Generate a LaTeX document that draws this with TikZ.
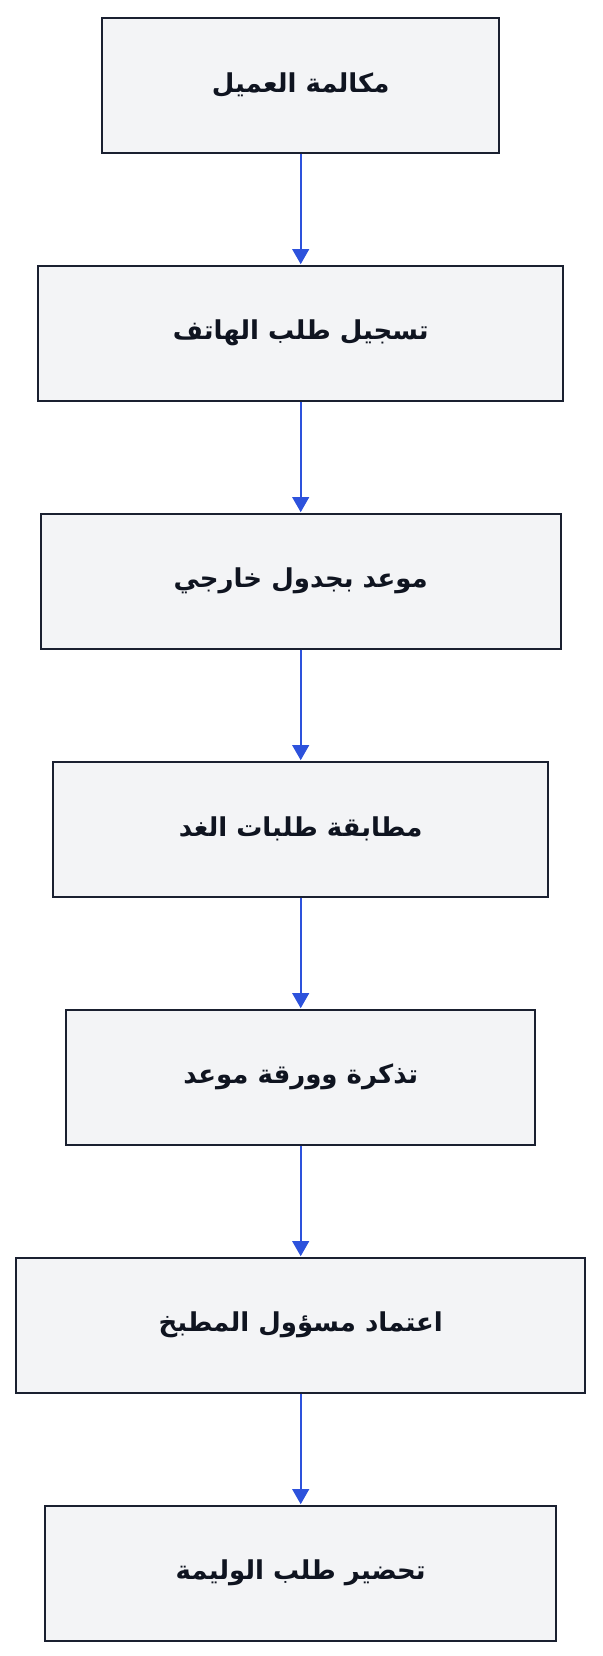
\documentclass[tikz,border=0pt]{standalone}
\usepackage{fontspec}
\usetikzlibrary{arrows.meta}
\TeXXeTstate=1
\newfontfamily\arabicfont[Script=Arabic]{DejaVu Sans}
\definecolor{boxfill}{HTML}{F3F4F6}
\definecolor{boxline}{HTML}{1A2030}
\definecolor{txtcol}{HTML}{0F1420}
\definecolor{arrowblue}{HTML}{2D52DC}
\newcommand{\ar}[1]{{\arabicfont\bfseries\beginR #1\endR}}
\tikzset{
  stepbox/.style={draw=boxline, fill=boxfill, line width=2pt, rectangle,
    minimum height=135pt, inner sep=0pt, anchor=north,
    text=txtcol, font=\fontsize{26}{30}\selectfont},
  flowarrow/.style={draw=arrowblue, line width=2pt,
    -{Triangle[width=16.6pt,length=15pt]}, shorten >=0.5pt}
}
\begin{document}
\begin{tikzpicture}[x=1pt,y=-1pt]
\useasboundingbox (0,0) rectangle (602,1656);
\node[stepbox, minimum width=397pt] (n1) at (300.7,16.7) {\ar{مكالمة العميل}};
\node[stepbox, minimum width=525pt] (n2) at (300.7,264.7) {\ar{تسجيل طلب الهاتف}};
\node[stepbox, minimum width=520pt] (n3) at (300.7,512.7) {\ar{موعد بجدول خارجي}};
\node[stepbox, minimum width=495pt] (n4) at (300.7,760.7) {\ar{مطابقة طلبات الغد}};
\node[stepbox, minimum width=469pt] (n5) at (300.7,1008.7) {\ar{تذكرة وورقة موعد}};
\node[stepbox, minimum width=569pt] (n6) at (300.7,1256.7) {\ar{اعتماد مسؤول المطبخ}};
\node[stepbox, minimum width=511pt] (n7) at (300.7,1504.7) {\ar{تحضير طلب الوليمة}};
\draw[flowarrow] (n1.south) -- (n2.north);
\draw[flowarrow] (n2.south) -- (n3.north);
\draw[flowarrow] (n3.south) -- (n4.north);
\draw[flowarrow] (n4.south) -- (n5.north);
\draw[flowarrow] (n5.south) -- (n6.north);
\draw[flowarrow] (n6.south) -- (n7.north);
\end{tikzpicture}
\end{document}
